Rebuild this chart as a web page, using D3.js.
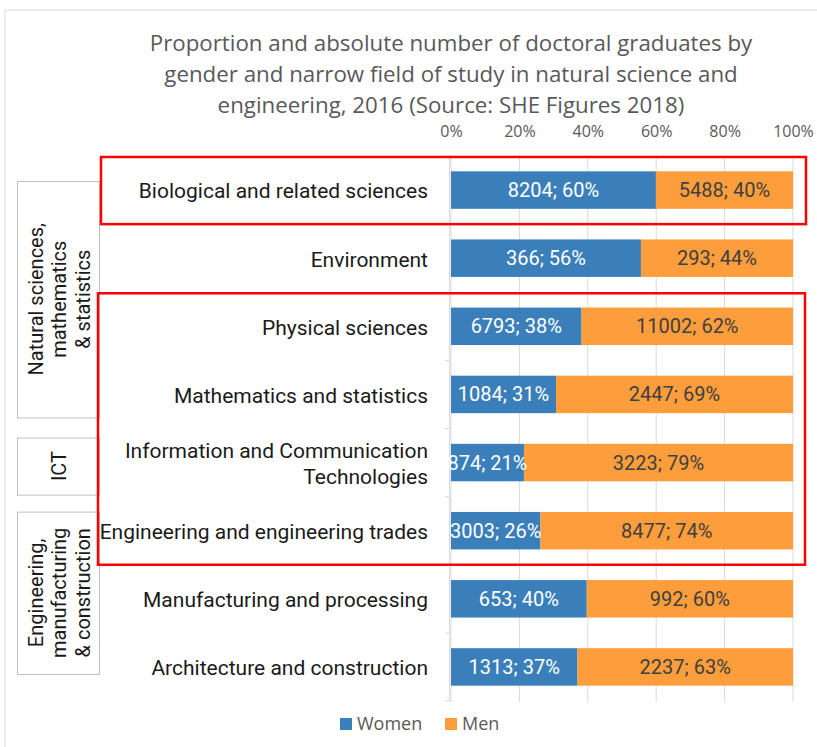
<!DOCTYPE html>
<html>
<head>
<meta charset="utf-8">
<script src="https://cdn.jsdelivr.net/npm/d3@7"></script>
<style>
  body { margin: 0; background: #fff; }
  svg { display: block; }
</style>
</head>
<body>
<svg id="chart" width="817" height="747"></svg>
<script>
// data
var fields = ["Biological and related sciences", "Environment", "Physical sciences",
  "Mathematics and statistics", "Information and Communication Technologies",
  "Engineering and engineering trades", "Manufacturing and processing", "Architecture and construction"];
var fieldLines = [["Biological and related sciences"], ["Environment"], ["Physical sciences"],
  ["Mathematics and statistics"], ["Information and Communication", "Technologies"],
  ["Engineering and engineering trades"], ["Manufacturing and processing"], ["Architecture and construction"]];
var women = [8204, 366, 6793, 1084, 874, 3003, 653, 1313];
var men = [5488, 293, 11002, 2447, 3223, 8477, 992, 2237];
var ticks = [0, 0.2, 0.4, 0.6, 0.8, 1];
var titleLines = ["Proportion and absolute number of doctoral graduates by",
  "gender and narrow field of study in natural science and",
  "engineering, 2016 (Source: SHE Figures 2018)"];
var groups = [
  {lines: ["Natural sciences,", "mathematics", "& statistics"], from: 0, to: 3, top: 25, bottom: 11},
  {lines: ["ICT"], from: 4, to: 4, top: 9, bottom: 2},
  {lines: ["Engineering,", "manufacturing", "& construction"], from: 5, to: 7, top: 15, bottom: 27}
];
var highlights = [{from: 0, to: 0, x0: 101, x1: 806}, {from: 2, to: 5, x0: 98, x1: 805}];

var colWomen = "#3b7fba", colMen = "#fd9d3b";
var svg = d3.select("#chart");

var rows = fields.map(function(f, i) {
  var t = women[i] + men[i];
  return {field: f, lines: fieldLines[i], w: women[i], m: men[i], pw: women[i] / t, pm: men[i] / t};
});

var x = d3.scaleLinear().domain([0, 1]).range([451, 793]);
var y = d3.scaleBand().domain(fields).range([156, 701]).paddingInner(0.45).paddingOuter(0.225);
var step = y.step();
function bandTop(i) { return y(fields[i]) - y.paddingOuter() * step; }
function bandBot(i) { return bandTop(i) + step; }

var softFont = "'Open Sans', sans-serif";
var lblFont = "Roboto, 'Open Sans', sans-serif";

// outer chart border
svg.append("path").attr("d", "M5,747V10H817").attr("fill", "none").attr("stroke", "#d9d9d9");

// title
var title = svg.append("text").attr("text-anchor", "middle")
  .style("font-family", softFont).style("font-size", "22.3px").style("fill", "#595959");
title.selectAll("tspan").data(titleLines).enter().append("tspan")
  .attr("x", 451).attr("y", function(d, i) { return 51 + i * 31; }).text(function(d) { return d; });

// gridlines
svg.append("g").selectAll("line").data(ticks).enter().append("line")
  .attr("x1", function(d) { return x(d); }).attr("x2", function(d) { return x(d); })
  .attr("y1", 155).attr("y2", 702).attr("stroke", "#d9d9d9").attr("stroke-width", 1);

// top axis
var xAxis = svg.append("g").attr("transform", "translate(0,140)")
  .call(d3.axisTop(x).tickValues(ticks).tickFormat(d3.format(".0%")).tickSize(0));
xAxis.select(".domain").remove();
xAxis.selectAll("text").style("font-family", softFont)
  .style("font-size", "16px").style("fill", "#595959");

// category axis line + ticks
svg.append("line").attr("x1", 449.5).attr("x2", 449.5).attr("y1", 156).attr("y2", 701)
  .attr("stroke", "#d9d9d9");
svg.append("g").selectAll("line").data(d3.range(fields.length + 1)).enter().append("line")
  .attr("x1", 445).attr("x2", 449.5)
  .attr("y1", function(i) { return 156 + i * step; }).attr("y2", function(i) { return 156 + i * step; })
  .attr("stroke", "#d9d9d9");

// bars
var bar = svg.append("g").selectAll("g").data(rows).enter().append("g");
bar.append("rect").attr("x", x(0)).attr("y", function(d) { return y(d.field); })
  .attr("width", function(d) { return x(d.pw) - x(0); }).attr("height", y.bandwidth()).attr("fill", colWomen);
bar.append("rect").attr("x", function(d) { return x(d.pw); }).attr("y", function(d) { return y(d.field); })
  .attr("width", function(d) { return x(1) - x(d.pw); }).attr("height", y.bandwidth()).attr("fill", colMen);

bar.append("text").attr("text-anchor", "middle")
  .attr("x", function(d) { return (x(0) + x(d.pw)) / 2; })
  .attr("y", function(d) { return y(d.field) + y.bandwidth() / 2; }).attr("dy", "0.35em")
  .style("font-family", lblFont).style("font-size", "20px").style("fill", "#fff")
  .text(function(d) { return d.w + "; " + Math.round(d.pw * 100) + "%"; });
bar.append("text").attr("text-anchor", "middle")
  .attr("x", function(d) { return (x(d.pw) + x(1)) / 2; })
  .attr("y", function(d) { return y(d.field) + y.bandwidth() / 2; }).attr("dy", "0.35em")
  .style("font-family", lblFont).style("font-size", "20px").style("fill", "#404040")
  .text(function(d) { return d.m + "; " + Math.round(d.pm * 100) + "%"; });

// category labels
var cat = svg.append("g").selectAll("text").data(rows).enter().append("text")
  .attr("text-anchor", "end").style("font-family", lblFont).style("font-size", "21px").style("fill", "#1a1a1a");
cat.each(function(d) {
  var t = d3.select(this), n = d.lines.length, cy = y(d.field) + y.bandwidth() / 2 + 1;
  d.lines.forEach(function(l, k) {
    t.append("tspan").attr("x", 428).attr("y", cy + (k - (n - 1) / 2) * 26).attr("dy", "0.35em").text(l);
  });
});

// group boxes
var gb = svg.append("g").selectAll("g").data(groups).enter().append("g");
gb.append("rect").attr("x", 17.5).attr("width", 82)
  .attr("y", function(d) { return bandTop(d.from) + d.top + 0.5; })
  .attr("height", function(d) { return bandBot(d.to) - d.bottom - bandTop(d.from) - d.top; })
  .attr("fill", "#fff").attr("stroke", "#bfbfbf");
gb.append("text").attr("text-anchor", "middle")
  .attr("transform", function(d) {
    var cy = (bandTop(d.from) + d.top + bandBot(d.to) - d.bottom) / 2;
    return "translate(59," + cy + ") rotate(-90)";
  })
  .style("font-family", lblFont).style("font-size", "20px").style("fill", "#1a1a1a")
  .each(function(d) {
    var t = d3.select(this), n = d.lines.length;
    d.lines.forEach(function(l, k) {
      t.append("tspan").attr("x", 0).attr("y", (k - (n - 1) / 2) * 23.5).attr("dy", "0.35em").text(l);
    });
  });

// red highlight boxes
svg.append("g").selectAll("rect").data(highlights).enter().append("rect")
  .attr("x", function(d) { return d.x0; }).attr("width", function(d) { return d.x1 - d.x0; })
  .attr("y", function(d) { return bandTop(d.from) + 1; })
  .attr("height", function(d) { return bandBot(d.to) - bandTop(d.from) - 1; })
  .attr("fill", "none").attr("stroke", "#ff0000").attr("stroke-width", 2.5);

// legend
var legend = svg.append("g").attr("transform", "translate(340,724)");
var items = [{name: "Women", c: colWomen, dx: 0}, {name: "Men", c: colMen, dx: 105}];
var li = legend.selectAll("g").data(items).enter().append("g")
  .attr("transform", function(d) { return "translate(" + d.dx + ",0)"; });
li.append("rect").attr("x", 0).attr("y", -6).attr("width", 12).attr("height", 12).attr("fill", function(d) { return d.c; });
li.append("text").attr("x", 17).attr("dy", "0.35em")
  .style("font-family", softFont).style("font-size", "18px")
  .style("fill", "#595959").text(function(d) { return d.name; });
</script>
</body>
</html>
